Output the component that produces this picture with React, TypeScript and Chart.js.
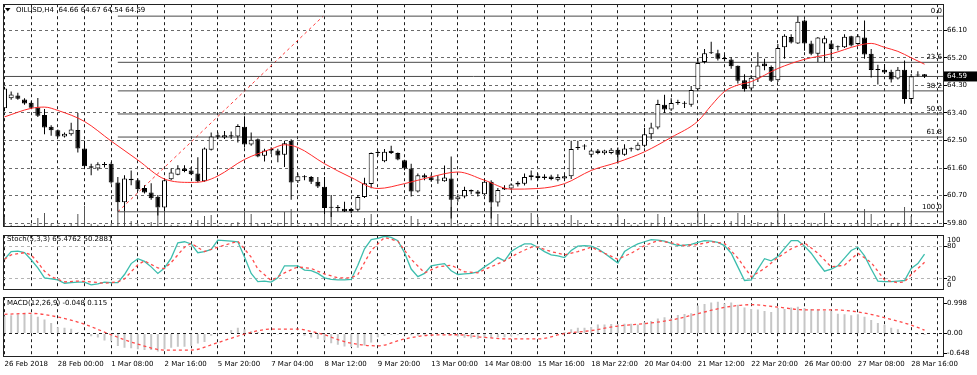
import React, { useEffect, useRef } from "react";
import { Chart, registerables } from "chart.js";

Chart.register(...registerables);

// ---------------- data ----------------
const timeLabels = [
  "26 Feb 2018", "28 Feb 00:00", "1 Mar 08:00", "2 Mar 16:00", "5 Mar 20:00", "7 Mar 04:00",
  "8 Mar 12:00", "9 Mar 20:00", "13 Mar 00:00", "14 Mar 08:00", "15 Mar 16:00", "18 Mar 22:00",
  "20 Mar 04:00", "21 Mar 12:00", "22 Mar 20:00", "26 Mar 00:00", "27 Mar 08:00", "28 Mar 16:00",
];

const opens = [
  63.55, 63.88, 63.97, 63.84, 63.73, 63.58, 63.33, 62.95, 62.83, 62.63,
  62.70, 62.84, 62.24, 61.66, 61.58, 61.73, 61.74, 61.13, 60.48, 61.25,
  61.20, 60.95, 60.80, 60.66, 60.31, 61.23, 61.38, 61.58, 61.52, 61.42,
  61.17, 62.20, 62.67, 62.60, 62.67, 62.63, 62.95, 62.37, 62.54, 62.00,
  62.22, 62.17, 62.03, 62.49, 61.17, 61.31, 61.31, 61.15, 60.99, 60.32,
  60.30, 60.27, 60.20, 60.24, 60.65, 61.08, 62.09, 61.82, 62.16, 62.09,
  61.85, 61.58, 60.83, 61.36, 61.30, 61.20, 61.17, 61.26, 60.58, 60.67,
  60.88, 60.83, 60.74, 61.15, 60.47, 60.95, 60.93, 61.06, 61.09, 61.31,
  61.35, 61.27, 61.32, 61.22, 61.26, 61.33, 62.25, 62.30, 62.03, 62.17,
  62.08, 62.09, 62.20, 62.03, 62.21, 62.20, 62.33, 62.70, 62.92, 63.67,
  63.51, 63.72, 63.71, 63.67, 64.17, 65.06, 65.38, 65.35, 65.19, 65.14,
  64.94, 64.47, 64.20, 64.52, 65.01, 64.90, 64.47, 65.54, 65.88, 65.67,
  66.42, 65.67, 65.33, 65.67, 65.67, 65.55, 65.54, 65.90, 65.65, 65.86,
  65.33, 64.81, 64.81, 64.74, 64.52, 64.81, 63.85, 64.63, 64.66,
];
const highs = [
  64.25, 64.10, 64.06, 63.88, 63.77, 63.89, 63.53, 63.00, 62.86, 62.76,
  63.08, 63.40, 62.49, 61.74, 61.79, 61.80, 61.79, 61.31, 61.36, 61.52,
  61.26, 61.04, 61.10, 60.72, 61.26, 61.58, 61.69, 61.69, 61.63, 61.95,
  62.27, 62.76, 62.76, 62.81, 62.79, 63.03, 63.29, 62.76, 62.56, 62.23,
  62.28, 62.23, 62.49, 62.54, 61.42, 61.36, 61.34, 61.31, 61.31, 60.72,
  60.39, 60.50, 60.30, 60.72, 61.28, 62.11, 62.16, 62.22, 62.33, 62.11,
  61.87, 61.74, 61.42, 61.42, 61.38, 61.36, 61.68, 61.98, 60.74, 60.99,
  60.90, 60.88, 61.26, 61.20, 60.95, 61.04, 61.10, 61.17, 61.42, 61.52,
  61.42, 61.40, 61.38, 61.40, 61.38, 62.49, 62.49, 62.38, 62.20, 62.22,
  62.20, 62.25, 62.27, 62.38, 62.27, 62.43, 62.91, 63.08, 63.83, 63.99,
  63.88, 63.83, 63.78, 64.28, 65.20, 65.49, 65.72, 65.46, 65.30, 65.22,
  64.95, 64.66, 64.63, 65.38, 65.17, 64.95, 65.65, 65.97, 65.97, 66.56,
  66.45, 65.76, 65.88, 65.92, 65.76, 65.60, 65.97, 65.92, 65.97, 66.42,
  65.49, 64.97, 65.00, 64.81, 64.90, 65.11, 64.67, 64.76, 64.67,
];
const lows = [
  63.45, 63.83, 63.83, 63.67, 63.54, 63.27, 62.70, 62.65, 62.60, 62.60,
  62.65, 62.11, 61.58, 61.36, 61.52, 61.62, 61.09, 60.17, 60.20, 61.04,
  60.85, 60.77, 60.56, 60.05, 60.20, 61.20, 61.36, 61.46, 61.37, 61.13,
  61.15, 62.17, 62.55, 62.55, 62.55, 62.43, 62.27, 62.33, 61.95, 61.81,
  62.06, 61.79, 61.63, 60.56, 61.11, 61.20, 61.08, 60.95, 60.10, 60.00,
  60.18, 60.16, 60.12, 60.18, 60.62, 60.94, 61.99, 61.79, 62.06, 61.85,
  61.53, 60.67, 60.80, 61.20, 61.15, 61.09, 61.15, 59.95, 60.50, 60.61,
  60.74, 60.67, 60.72, 59.95, 60.34, 60.88, 60.88, 61.00, 61.03, 61.20,
  61.20, 61.22, 61.20, 61.17, 61.20, 61.24, 62.19, 62.20, 61.95, 62.05,
  62.03, 62.05, 61.75, 62.00, 62.14, 62.17, 62.28, 62.54, 62.87, 63.40,
  63.46, 63.67, 63.56, 63.60, 64.12, 65.01, 65.32, 65.11, 65.09, 64.84,
  64.36, 64.10, 64.14, 64.41, 64.79, 64.41, 64.41, 65.17, 65.67, 65.65,
  65.43, 65.28, 65.06, 65.06, 65.17, 65.44, 65.52, 65.57, 65.60, 65.17,
  64.56, 64.33, 64.67, 64.39, 64.49, 63.70, 63.70, 64.59, 64.54,
];
const closes = [
  64.20, 64.00, 63.86, 63.71, 63.57, 63.31, 62.92, 62.83, 62.63, 62.72,
  62.86, 62.24, 61.66, 61.61, 61.72, 61.70, 61.13, 60.48, 61.26, 61.20,
  60.91, 60.80, 60.61, 60.31, 61.20, 61.45, 61.58, 61.50, 61.40, 61.17,
  62.24, 62.63, 62.62, 62.67, 62.63, 62.97, 62.37, 62.52, 61.98, 62.17,
  62.17, 62.01, 62.41, 61.13, 61.33, 61.30, 61.15, 61.00, 60.29, 60.30,
  60.29, 60.18, 60.26, 60.65, 61.10, 62.09, 62.11, 62.13, 62.09, 61.88,
  61.58, 60.83, 61.36, 61.29, 61.20, 61.19, 61.29, 60.56, 60.67, 60.88,
  60.83, 60.76, 61.15, 60.47, 60.88, 60.90, 61.06, 61.12, 61.31, 61.36,
  61.27, 61.32, 61.24, 61.31, 61.33, 62.22, 62.27, 62.32, 62.17, 62.09,
  62.17, 62.20, 62.03, 62.24, 62.22, 62.36, 62.70, 62.92, 63.69, 63.51,
  63.72, 63.74, 63.70, 64.15, 65.03, 65.35, 65.35, 65.17, 65.15, 64.92,
  64.45, 64.17, 64.55, 64.95, 64.92, 64.45, 65.52, 65.92, 65.70, 66.38,
  65.67, 65.33, 65.86, 65.84, 65.49, 65.54, 65.89, 65.60, 65.90, 65.31,
  64.80, 64.80, 64.72, 64.49, 64.81, 63.85, 64.60, 64.62, 64.59,
];
const volumes = [
  1000, 200, 100, 200, 300, 900, 1400, 300, 200, 200,
  300, 1300, 2100, 300, 200, 200, 300, 1500, 1700, 600,
  300, 200, 500, 1900, 2000, 200, 200, 100, 300, 700,
  1100, 1200, 200, 100, 300, 500, 1500, 1300, 300, 400,
  200, 400, 1500, 1800, 200, 200, 300, 300, 1800, 1500,
  200, 300, 200, 200, 900, 1300, 200, 100, 200, 100,
  200, 1100, 800, 200, 100, 200, 400, 2000, 300, 200,
  200, 100, 200, 2000, 1300, 100, 200, 200, 300, 1400,
  1000, 200, 200, 300, 300, 1200, 700, 200, 100, 200,
  100, 300, 1200, 800, 200, 200, 700, 400, 1300, 1000,
  400, 200, 200, 400, 1600, 1300, 200, 100, 300, 600,
  1400, 1200, 300, 500, 300, 500, 1700, 1300, 200, 100,
  300, 400, 300, 1400, 200, 100, 300, 200, 400, 1800,
  1300, 300, 400, 300, 400, 2000, 1100, 100, 100,
];

const maAt = [0, 4, 6, 8, 12, 16, 20, 24, 28, 30, 32, 36, 40, 42, 44, 48, 52, 56, 60, 64, 68, 72, 76, 80, 84, 88, 92, 96, 100, 104, 106, 108, 110, 112, 116, 120, 124, 128, 130, 132, 134, 136, 138];
const maValues = [63.27, 63.55, 63.59, 63.48, 63.12, 62.48, 61.86, 61.24, 61.13, 61.17, 61.34, 61.88, 62.22, 62.36, 62.27, 61.74, 61.29, 60.93, 61.09, 61.31, 61.47, 61.20, 60.91, 60.93, 61.09, 61.52, 61.79, 62.13, 62.60, 63.13, 63.64, 64.10, 64.31, 64.42, 64.85, 65.15, 65.33, 65.60, 65.67, 65.54, 65.41, 65.20, 64.99];

const stochK = [
  56, 70, 71, 68, 55, 40, 22, 20, 18, 12,
  13, 14, 14, 9, 11, 14, 13, 13, 28, 48,
  57, 52, 42, 30, 40, 58, 86, 88, 84, 68,
  70, 74, 91, 90, 89, 88, 60, 30, 15, 16,
  14, 22, 44, 44, 44, 36, 35, 30, 22, 19,
  18, 18, 19, 45, 75, 92, 94, 98, 96, 90,
  68, 38, 24, 30, 44, 46, 48, 35, 28, 29,
  30, 33, 42, 50, 59, 53, 70, 78, 84, 84,
  78, 70, 64, 62, 59, 72, 80, 81, 80, 75,
  67, 58, 49, 70, 78, 84, 88, 92, 91, 89,
  85, 81, 82, 83, 87, 90, 89, 87, 81, 67,
  42, 17, 18, 38, 57, 53, 61, 76, 90, 90,
  80, 67, 50, 34, 38, 44, 58, 72, 78, 62,
  38, 16, 15, 15, 16, 17, 39, 48, 65.48,
];
const stochDAt = [0, 1, 3, 4, 5, 6, 7, 9, 11, 13, 15, 17, 18, 20, 21, 23, 24, 25, 27, 28, 30, 32, 35, 37, 38, 40, 42, 44, 46, 48, 50, 52, 53, 55, 57, 59, 61, 63, 65, 67, 69, 71, 72, 75, 77, 79, 80, 82, 84, 86, 88, 90, 92, 94, 96, 98, 100, 102, 104, 106, 108, 110, 112, 114, 116, 118, 120, 122, 124, 126, 128, 130, 132, 134, 135, 136, 138];
const stochDValues = [56, 64, 68, 64, 50, 34, 24, 14.5, 16, 14.5, 12, 14.5, 20, 46, 53, 40, 39, 50, 78, 85, 70, 78, 89, 60, 38, 17, 31, 42, 39, 29, 22, 22, 28, 72, 96, 89, 56, 31, 42, 45, 33, 31, 37, 53, 67, 78, 78, 70, 64, 70, 78, 67, 56, 67, 81, 90, 86, 81, 83, 88, 85, 58, 24, 39, 59, 75, 86, 67, 42, 45, 67, 50, 18, 13, 14.5, 28, 50.29];

const macdMain = [
  0.58, 0.61, 0.64, 0.66, 0.64, 0.56, 0.47, 0.35, 0.21, 0.19,
  0.16, 0.05, 0.0, -0.09, -0.13, -0.23, -0.26, -0.41, -0.47, -0.49,
  -0.52, -0.55, -0.55, -0.60, -0.52, -0.47, -0.44, -0.44, -0.41, -0.33,
  -0.28, -0.07, -0.02, 0.03, 0.12, 0.19, 0.14, 0.08, 0.05, 0.01,
  -0.02, -0.03, -0.02, -0.05, -0.05, -0.07, -0.13, -0.18, -0.23, -0.32,
  -0.37, -0.43, -0.45, -0.47, -0.40, -0.30, -0.12, -0.08, -0.05, -0.04,
  -0.03, -0.06, -0.07, -0.05, -0.03, -0.02, -0.02, -0.06, -0.10, -0.14,
  -0.16, -0.18, -0.16, -0.15, -0.12, -0.12, -0.09, -0.06, -0.04, -0.02,
  -0.02, -0.01, -0.01, 0.0, 0.05, 0.14, 0.19, 0.19, 0.22, 0.30,
  0.30, 0.32, 0.32, 0.33, 0.33, 0.30, 0.38, 0.42, 0.50, 0.54,
  0.52, 0.62, 0.65, 0.68, 0.93, 0.98, 1.03, 1.06, 1.00, 1.03,
  0.96, 0.87, 0.82, 0.80, 0.75, 0.72, 0.85, 0.82, 0.87, 0.89,
  0.85, 0.82, 0.79, 0.76, 0.75, 0.66, 0.64, 0.61, 0.64, 0.56,
  0.45, 0.35, 0.29, 0.19, 0.14, 0.03, 0.0, -0.03, -0.048,
];
const macdSignalAt = [0, 4, 8, 12, 16, 20, 24, 28, 32, 36, 40, 44, 46, 48, 50, 52, 56, 60, 64, 68, 72, 76, 80, 84, 88, 92, 96, 100, 104, 108, 112, 116, 120, 124, 128, 132, 136, 138];
const macdSignalValues = [0.64, 0.67, 0.55, 0.31, -0.04, -0.35, -0.55, -0.55, -0.30, -0.02, 0.15, 0.15, 0.07, -0.04, -0.2, -0.32, -0.41, -0.18, -0.05, -0.04, -0.13, -0.18, -0.18, 0.0, 0.1, 0.25, 0.33, 0.45, 0.66, 0.87, 0.96, 0.88, 0.79, 0.79, 0.72, 0.53, 0.28, 0.115];

const priceTicks = [59.8, 60.7, 61.6, 62.5, 63.4, 64.3, 65.2, 66.1];
const stochLevels = [20, 80];
const macdTicks = [-0.648, 0, 0.998];
const fiboLevels = [0, 23.6, 38.2, 50, 61.8, 100];
const fiboLow = { bar: 17, price: 60.17 };
const fiboHigh = { bar: 47.8, price: 66.56 };
const lastPrice = 64.59;
const mainTitle = "OILUSD,H4  64.66 64.67 64.54 64.59";
const stochTitle = "Stoch(5,3,3) 65.4762 50.2881";
const macdTitle = "MACD(12,26,9) -0.048 0.115";

// ---------------- layout / style ----------------
const FAMILY = '"DejaVu Sans", sans-serif';
const FONT = { family: FAMILY, size: 7 };
const X_MIN = -0.225;
const X_MAX = 140.92;
const AXIS_W = 33;
const W = 977;

function xScale(showLabels: boolean) {
  return {
    type: "linear",
    position: "bottom",
    min: X_MIN,
    max: X_MAX,
    offset: false,
    afterBuildTicks: (s: any) => {
      const t: { value: number }[] = [];
      for (let v = 0; v <= X_MAX; v += 4) t.push({ value: v });
      s.ticks = t;
    },
    afterFit: (s: any) => {
      s.height = showLabels ? 18 : 0;
    },
    grid: { color: "#1e1e1e", lineWidth: 1, drawTicks: false, offset: false },
    border: { display: false, dash: [3, 3] },
    ticks: {
      display: showLabels,
      autoSkip: false,
      maxRotation: 0,
      minRotation: 0,
      align: "start",
      padding: 3,
      color: "#000",
      font: FONT,
      callback: (v: number) => (v % 8 === 0 && timeLabels[v / 8] ? timeLabels[v / 8] : ""),
    },
  };
}

function yScale(min: number, max: number, ticks: number[], gridColor: any, fmt: (v: number) => string) {
  return {
    type: "linear",
    position: "right",
    min,
    max,
    afterBuildTicks: (s: any) => {
      s.ticks = ticks.map((v) => ({ value: v }));
    },
    afterFit: (s: any) => {
      s.width = AXIS_W;
    },
    grid: { color: gridColor, lineWidth: 1, drawTicks: true, tickLength: 3, tickColor: "#000", tickBorderDash: [] },
    border: { display: false, dash: [3, 3] },
    ticks: { padding: 0, color: "#000", font: FONT, callback: (v: number) => fmt(Number(v)) },
  };
}

const framePlugin = {
  id: "frame",
  afterDraw(chart: any) {
    const { ctx, chartArea: a } = chart;
    ctx.save();
    ctx.strokeStyle = "#222";
    ctx.lineWidth = 1;
    ctx.setLineDash([]);
    ctx.strokeRect(Math.round(a.left) + 0.5, Math.round(a.top) + 0.5, Math.round(a.right - a.left) - 1, Math.round(a.bottom - a.top) - 1);
    ctx.restore();
  },
};

function textPlugin(id: string, draw: (chart: any, ctx: CanvasRenderingContext2D) => void) {
  return {
    id,
    afterDraw(chart: any) {
      const ctx = chart.ctx;
      ctx.save();
      ctx.font = `7px ${FAMILY}`;
      ctx.textBaseline = "middle";
      ctx.fillStyle = "#000";
      draw(chart, ctx);
      ctx.restore();
    },
  };
}

const baseOptions = (padding: any) => ({
  responsive: false,
  animation: false,
  events: [],
  devicePixelRatio: 1,
  layout: { padding },
  plugins: { legend: { display: false }, tooltip: { enabled: false } },
});

const fiboPrice = (lvl: number) => fiboHigh.price - ((fiboHigh.price - fiboLow.price) * lvl) / 100;

export default function App() {
  const mainRef = useRef<HTMLCanvasElement>(null);
  const stochRef = useRef<HTMLCanvasElement>(null);
  const macdRef = useRef<HTMLCanvasElement>(null);

  useEffect(() => {
    const fiboSets = fiboLevels.map((lvl) => ({
      type: "line",
      yAxisID: "y",
      data: [
        { x: fiboLow.bar, y: fiboPrice(lvl) },
        { x: X_MAX, y: fiboPrice(lvl) },
      ],
      borderColor: "#4a4a4a",
      borderWidth: 1,
      pointRadius: 0,
      order: 9,
    }));

    const main = new Chart(mainRef.current as HTMLCanvasElement, {
      type: "line",
      data: {
        datasets: [
          {
            type: "bar",
            yAxisID: "vol",
            data: volumes.map((v, i) => ({ x: i, y: v })),
            backgroundColor: "#555",
            barThickness: 1,
            grouped: false,
            inflateAmount: 0,
            order: 10,
          },
          ...fiboSets,
          {
            type: "line",
            yAxisID: "y",
            data: [
              { x: X_MIN, y: lastPrice },
              { x: X_MAX, y: lastPrice },
            ],
            borderColor: "#4a4a4a",
            borderWidth: 1,
            pointRadius: 0,
            order: 9,
          },
          {
            type: "line",
            yAxisID: "y",
            data: [
              { x: fiboLow.bar, y: fiboLow.price },
              { x: fiboHigh.bar, y: fiboHigh.price },
            ],
            borderColor: "#ff3c3c",
            borderWidth: 1,
            borderDash: [3, 3],
            pointRadius: 0,
            order: 9,
          },
          {
            type: "bar",
            yAxisID: "y",
            data: opens.map((_, i) => ({ x: i, y: [lows[i], highs[i]] })),
            backgroundColor: "#000",
            barThickness: 1,
            grouped: false,
            inflateAmount: 0,
            order: 8,
          },
          {
            type: "bar",
            yAxisID: "y",
            data: opens.map((o, i) => ({ x: i, y: [o, closes[i]] })),
            backgroundColor: opens.map((o, i) => (closes[i] >= o ? "#fff" : "#000")),
            borderColor: "#000",
            borderWidth: 1,
            borderSkipped: false,
            barThickness: 5,
            minBarLength: 1,
            grouped: false,
            inflateAmount: 0,
            order: 7,
          },
          {
            type: "line",
            yAxisID: "y",
            data: maAt.map((x, k) => ({ x, y: maValues[k] })),
            borderColor: "#ff2a2a",
            borderWidth: 1,
            pointRadius: 0,
            cubicInterpolationMode: "monotone",
            order: 1,
          },
        ],
      },
      options: {
        ...baseOptions({ left: 3, top: 3, right: 0, bottom: 2 }),
        scales: {
          x: xScale(false),
          y: yScale(59.68, 66.95, priceTicks, "#6a6a6a", (v) => v.toFixed(2)),
          vol: { type: "linear", display: false, min: 0, max: 22600 },
        },
      },
      plugins: [
        framePlugin,
        textPlugin("mainText", (chart, ctx) => {
          const a = chart.chartArea;
          const ys = chart.scales.y;
          ctx.beginPath();
          ctx.moveTo(5, 8);
          ctx.lineTo(10.5, 8);
          ctx.lineTo(7.75, 11.5);
          ctx.closePath();
          ctx.fill();
          ctx.textAlign = "left";
          ctx.fillText(mainTitle, 16, 10);
          ctx.textAlign = "right";
          fiboLevels.forEach((lvl) => {
            ctx.fillText(lvl.toFixed(1), a.right - 2, ys.getPixelForValue(fiboPrice(lvl)) - 5);
          });
          const py = ys.getPixelForValue(lastPrice);
          ctx.fillStyle = "#000";
          ctx.fillRect(a.right, py - 5, AXIS_W, 10);
          ctx.fillStyle = "#fff";
          ctx.textAlign = "left";
          ctx.fillText(lastPrice.toFixed(2), a.right + 3, py);
        }),
      ],
    } as any);

    const stoch = new Chart(stochRef.current as HTMLCanvasElement, {
      type: "line",
      data: {
        datasets: [
          {
            data: stochK.map((v, i) => ({ x: i, y: v })),
            borderColor: "#3cbdad",
            borderWidth: 1.3,
            pointRadius: 0,
            order: 2,
          },
          {
            data: stochDAt.map((x, k) => ({ x, y: stochDValues[k] })),
            borderColor: "#ff4a4a",
            borderWidth: 1.3,
            borderDash: [3, 3],
            pointRadius: 0,
            order: 1,
          },
        ],
      },
      options: {
        ...baseOptions({ left: 3, top: 1, right: 0, bottom: 2 }),
        scales: {
          x: xScale(false),
          y: yScale(0, 100, stochLevels, "#b4b4b4", (v) => String(v)),
        },
      },
      plugins: [
        framePlugin,
        textPlugin("stochText", (chart, ctx) => {
          const a = chart.chartArea;
          const ys = chart.scales.y;
          ctx.textAlign = "left";
          ctx.fillText(stochTitle, 7, 8);
          ctx.fillText("100", a.right + 3, ys.getPixelForValue(100) + 5);
          ctx.fillText("0", a.right + 3, ys.getPixelForValue(0) - 5);
        }),
      ],
    } as any);

    const macd = new Chart(macdRef.current as HTMLCanvasElement, {
      type: "line",
      data: {
        datasets: [
          {
            type: "bar",
            data: macdMain.map((v, i) => ({ x: i, y: v })),
            backgroundColor: "#c6c6c6",
            barThickness: 2,
            grouped: false,
            inflateAmount: 0,
            order: 2,
          },
          {
            type: "line",
            data: macdSignalAt.map((x, k) => ({ x, y: macdSignalValues[k] })),
            borderColor: "#ff4a4a",
            borderWidth: 1.3,
            borderDash: [3, 3],
            pointRadius: 0,
            cubicInterpolationMode: "monotone",
            order: 1,
          },
        ],
      },
      options: {
        ...baseOptions({ left: 3, top: 1, right: 0, bottom: 0 }),
        scales: {
          x: xScale(true),
          y: yScale(
            -0.78,
            1.21,
            macdTicks,
            (c: any) => (c.tick && c.tick.value === 0 ? "#1e1e1e" : "rgba(0,0,0,0)"),
            (v) => (v === 0 ? "0.00" : String(v))
          ),
        },
      },
      plugins: [
        framePlugin,
        textPlugin("macdText", (_chart, ctx) => {
          ctx.textAlign = "left";
          ctx.fillText(macdTitle, 7, 10);
        }),
      ],
    } as any);

    return () => {
      main.destroy();
      stoch.destroy();
      macd.destroy();
    };
  }, []);

  const cs = (top: number, h: number): React.CSSProperties => ({
    position: "absolute",
    left: 0,
    top,
    width: W,
    height: h,
    display: "block",
  });

  return (
    <div style={{ position: "fixed", left: 0, top: 0, width: W, height: 375, background: "#fff", overflow: "hidden" }}>
      <canvas ref={mainRef} width={W} height={231} style={cs(0, 231)} />
      <canvas ref={stochRef} width={W} height={63} style={cs(231, 63)} />
      <canvas ref={macdRef} width={W} height={82} style={cs(293, 82)} />
    </div>
  );
}
